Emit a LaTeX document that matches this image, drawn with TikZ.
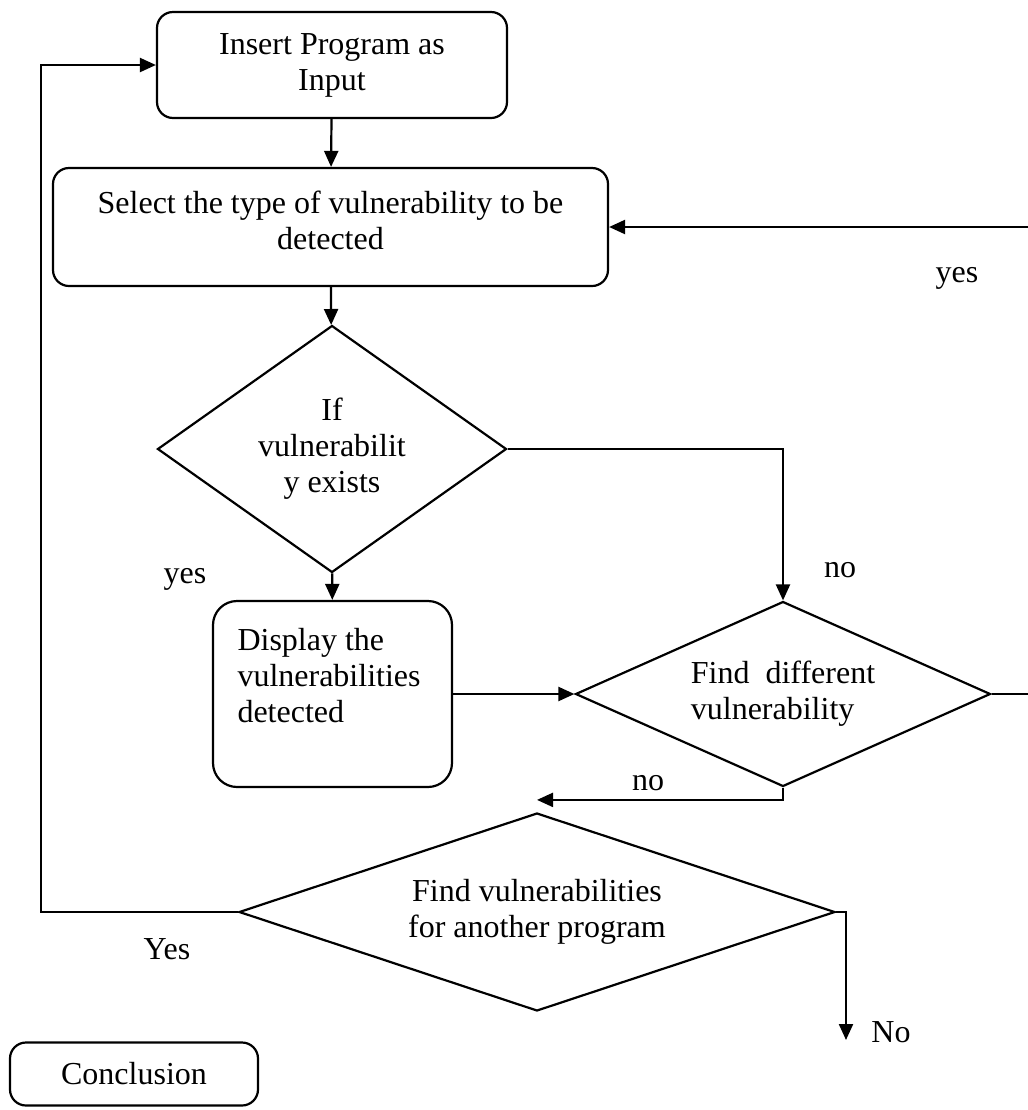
\documentclass[tikz,border=0pt]{standalone}
\usepackage{fontspec}
\setmainfont{Liberation Serif}
\usetikzlibrary{shapes.geometric, arrows.meta, calc}

\begin{document}
\begin{tikzpicture}[x = 0.5pt, y = -0.5pt, % one unit = one pixel, y runs down
                > = {Triangle[length = 8pt, width = 7pt]}, % arrow head style
                line width = 1.1pt, % line style
                font = \fontsize{16}{18}\selectfont
            ]

            \tikzstyle{box}=[draw = black, rounded corners = 8pt, inner sep = 0pt,
            align = center]
            \tikzstyle{decision}=[draw = black, diamond, inner sep = 0pt,
            align = center]
            \tikzstyle{lbl}=[anchor = base]

            \useasboundingbox (0,0) rectangle (1028,1110);

            \node[box, minimum width = 175pt, minimum height = 53pt] (input)
            at (332,65) {Insert Program as\\Input};
            \node[box, align = flush center, text width = 250pt,
            inner xsep = 13.75pt, inner ysep = 0pt, text height = 22.5pt,
            text depth = 36.5pt] (select)
            at (330.5,227) {Select the type of vulnerability to be\\detected};
            \node[decision, minimum width = 174.5pt, minimum height = 123.5pt,
            aspect = 1.41] (exists) at (332,449) {If\\vulnerabilit\\y exists};
            \node[box, rounded corners = 12pt, align = flush left,
            text width = 95pt, inner xsep = 12.25pt, inner ysep = 0pt,
            text height = 24.5pt, text depth = 68.5pt] (display) at (332.5,694)
            {Display the\\vulnerabilities\\detected};
            \node[decision, minimum width = 207.5pt, minimum height = 92.5pt,
            aspect = 2.24, align = left] (diff) at (783,694)
            {Find~ different\\vulnerability};
            \node[decision, minimum width = 298pt, minimum height = 99pt,
            aspect = 3] (another) at (537,912)
            {Find vulnerabilities\\for another program};
            \node[box, minimum width = 124pt, minimum height = 31.5pt]
            (conclusion) at (134,1074) {Conclusion};

            \coordinate (lft) at (41,500); \coordinate (rgt) at (1045,460);
            \coordinate (endno) at (846,1040);
            \coordinate (d3in) at ($(another.north)+(0,-12)$);

            \path[->] (input) edge (select); \path[->] (select) edge (exists);
            \path[->] (exists) edge (display); \path[->] (display) edge (diff);
            \draw[->] (exists.east) -| (diff.north);
            \draw[->] (diff.east) -| (rgt) |- (select.east);
            \draw[->] (diff.south) |- (d3in);
            \draw[->] (another.west) -| (lft) |- (input.west);
            \draw[->] (another.east) -| (endno);

            \node[lbl] (yes1) at (185,583) {yes};
            \node[lbl] (no1) at (840,577) {no};
            \node[lbl] (yes2) at (957,282) {yes};
            \node[lbl] (no2) at (648,790) {no};
            \node[lbl] (yes3) at (167,959) {Yes};
            \node[lbl] (no3) at (891,1042) {No};
\end{tikzpicture}
\end{document}
